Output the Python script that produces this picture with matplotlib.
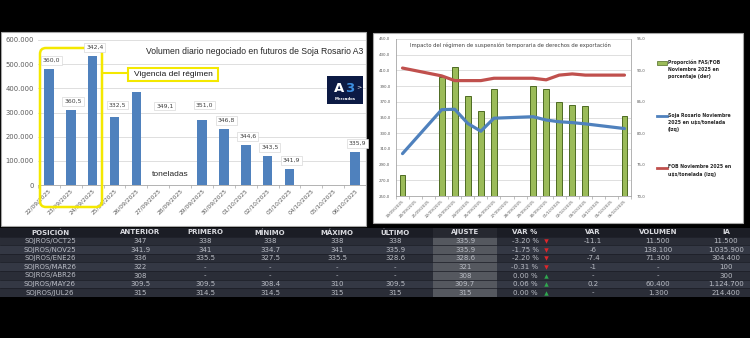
import numpy as np
import matplotlib
matplotlib.use("Agg")
import matplotlib.pyplot as plt
from matplotlib.patches import Rectangle, FancyBboxPatch
from matplotlib.lines import Line2D
from matplotlib.ticker import FuncFormatter, FixedLocator

# ---------------- data ----------------
vol_dates = ["22/09/2025", "23/09/2025", "24/09/2025", "25/09/2025", "26/09/2025",
             "27/09/2025", "28/09/2025", "29/09/2025", "30/09/2025", "01/10/2025",
             "02/10/2025", "03/10/2025", "04/10/2025", "05/10/2025", "06/10/2025"]
vol_tonnes = [479000, 310000, 533000, 281000, 384000, np.nan, np.nan, 269000,
              231000, 165000, 120000, 66000, np.nan, np.nan, 136000]
vol_price_labels = ["360,0", "360,5", "342,4", "332,5", "349,1", None, None, "351,0",
                    "346,8", "344,6", "343,5", "341,9", None, None, "335,9"]

imp_dates = ["19/09/2025", "20/09/2025", "21/09/2025", "22/09/2025", "23/09/2025",
             "24/09/2025", "25/09/2025", "26/09/2025", "27/09/2025", "28/09/2025",
             "29/09/2025", "30/09/2025", "01/10/2025", "02/10/2025", "03/10/2025",
             "04/10/2025", "05/10/2025", "06/10/2025"]
fas_fob_pct = [73.4, np.nan, np.nan, 88.9, 90.5, 86.0, 83.5, 87.0, np.nan, np.nan,
               87.5, 87.0, 85.0, 84.5, 84.4, np.nan, np.nan, 82.8]
soja_rosario = [304.0, np.nan, np.nan, 360.0, 360.5, 342.4, 332.5, 349.1, np.nan, np.nan,
                351.0, 346.8, 344.6, 343.5, 341.9, np.nan, np.nan, 335.9]
fob_nov = [413.0, np.nan, np.nan, 403.0, 397.0, 397.0, 397.0, 400.0, np.nan, np.nan,
           400.0, 398.0, 404.0, 405.5, 404.0, np.nan, np.nan, 404.0]

legend_labels = ["Proporción FAS/FOB\nNoviembre 2025 en\nporcentaje (der)",
                 "Soja Rosario Noviembre\n2025 en u\\$s/tonelada\n(izq)",
                 "FOB Noviembre 2025 en\nu\\$s/tonelada (izq)"]

table_header = ["POSICIÓN", "ANTERIOR", "PRIMERO", "MÍNIMO", "MÁXIMO", "ÚLTIMO",
                "AJUSTE", "VAR %", "VAR", "VOLUMEN", "IA"]
table_rows = [
    ["SOJROS/OCT25", "347", "338", "338", "338", "338", "335.9", "-3.20 %", "-11.1", "11.500", "11.500"],
    ["SOJROS/NOV25", "341.9", "341", "334.7", "341", "335.9", "335.9", "-1.75 %", "-6", "138.100", "1.035.900"],
    ["SOJROS/ENE26", "336", "335.5", "327.5", "335.5", "328.6", "328.6", "-2.20 %", "-7.4", "71.300", "304.400"],
    ["SOJROS/MAR26", "322", "-", "-", "-", "-", "321", "-0.31 %", "-1", "-", "100"],
    ["SOJROS/ABR26", "308", "-", "-", "-", "-", "308", "0.00 %", "-", "-", "300"],
    ["SOJROS/MAY26", "309.5", "309.5", "308.4", "310", "309.5", "309.7", "0.06 %", "0.2", "60.400", "1.124.700"],
    ["SOJROS/JUL26", "315", "314.5", "314.5", "315", "315", "315", "0.00 %", "-", "1.300", "214.400"],
]
var_pct_sign = [-1, -1, -1, -1, 0, 1, 0]

# ---------------- figure & layers ----------------
W, H = 750, 338
fig = plt.figure(figsize=(W / 100, H / 100), dpi=100, facecolor="black")


def fx(x):
    return x / W


def fy(y):
    return 1 - y / H


bg = fig.add_axes([0, 0, 1, 1], zorder=0)
bg.set_xlim(0, W)
bg.set_ylim(H, 0)
bg.axis("off")

# chart panels
bg.add_patch(Rectangle((0.5, 32), 365.5, 194, fc="white", ec="#a6a6a6", lw=0.8))
bg.add_patch(Rectangle((373, 33), 370, 190, fc="white", ec="#a6a6a6", lw=0.8))

# ---------------- left chart: daily volume ----------------
axL = fig.add_axes([fx(38), fy(185), 328 / W, 145 / H], zorder=2)
axL.patch.set_visible(False)
xL = np.arange(len(vol_dates))
vol = np.array(vol_tonnes, dtype=float)
okL = ~np.isnan(vol)
axL.bar(xL[okL], vol[okL], width=0.44, color="#4f81bd", zorder=3)
axL.set_xlim(-0.5, len(vol_dates) - 0.5)
axL.set_ylim(0, 600000)
axL.yaxis.set_major_locator(FixedLocator(np.arange(0, 600001, 100000)))
axL.yaxis.set_major_formatter(FuncFormatter(lambda v, p: f"{int(round(v)):,}".replace(",", ".")))
axL.yaxis.grid(True, color="#d9d9d9", lw=0.6, zorder=0)
axL.set_axisbelow(True)
for s in ["top", "right", "left"]:
    axL.spines[s].set_visible(False)
axL.spines["bottom"].set_color("#a6a6a6")
axL.spines["bottom"].set_linewidth(0.6)
axL.tick_params(axis="y", length=0, pad=3, labelsize=4.9, labelcolor="#595959")
axL.set_xticks(xL)
axL.set_xticklabels(vol_dates, rotation=45, ha="right", rotation_mode="anchor")
axL.tick_params(axis="x", which="major", length=0, pad=2, labelsize=4.2, labelcolor="#595959")
axL.set_xticks(np.arange(-0.5, len(vol_dates)), minor=True)
axL.tick_params(axis="x", which="minor", length=2.5, width=0.5, color="#a6a6a6")

# price labels above the bars
label_nudge = {"25/09/2025": (0.05, 14000), "26/09/2025": (1.2, -93000), "29/09/2025": (0.0, 26000)}
for i, lab in enumerate(vol_price_labels):
    if lab is None:
        continue
    dx, dy = label_nudge.get(vol_dates[i], (0.0, 0.0))
    axL.text(xL[i] + 0.1 + dx, vol[i] + 36000 + dy, lab, ha="center", va="center",
             fontsize=4.4, color="#404040", zorder=6,
             bbox=dict(boxstyle="square,pad=0.3", fc="white", ec="#d9d9d9", lw=0.5))

# highlight of the regime period
axL.add_patch(FancyBboxPatch((40, 48), 62, 159, boxstyle="round,pad=0,rounding_size=6",
                             fc="none", ec="#f4e800", lw=1.8, transform=bg.transData,
                             clip_on=False, zorder=5))
axL.add_line(Line2D([102, 128], [73, 73], color="#f4e800", lw=1.5,
                    transform=bg.transData, clip_on=False, zorder=5))
axL.add_patch(Rectangle((128, 68), 90, 12.5, fc="white", ec="#f4e800", lw=1.5,
                        transform=bg.transData, clip_on=False, zorder=5))
axL.text(173, 74.3, "Vigencia del régimen", ha="center", va="center", fontsize=6,
         family="Liberation Sans", color="#1a1a1a", transform=bg.transData, zorder=6)

axL.text(146, 52, "Volumen diario negociado en futuros de Soja Rosario A3", ha="left",
         va="center", fontsize=6.2, family="Liberation Sans", color="#262626",
         transform=bg.transData, zorder=6)
axL.text(152, 175, "toneladas", ha="left", va="center", fontsize=6,
         family="Liberation Sans", color="#262626", transform=bg.transData, zorder=6)

# A3 Mercados badge
axL.add_patch(Rectangle((327, 76), 36, 28, fc="#0c1a44", ec="none",
                        transform=bg.transData, clip_on=False, zorder=6))
axL.text(339.5, 88, "A", ha="center", va="center", fontsize=9.5, fontweight="bold",
         color="white", transform=bg.transData, zorder=7)
axL.text(349.5, 88, "3", ha="center", va="center", fontsize=9.5, fontweight="bold",
         color="#3d8fe0", transform=bg.transData, zorder=7)
axL.text(358.5, 87, ">", ha="center", va="center", fontsize=4.5,
         color="white", transform=bg.transData, zorder=7)
axL.text(345, 99.5, "Mercados", ha="center", va="center", fontsize=2.8, fontweight="bold",
         color="white", transform=bg.transData, zorder=7)

# ---------------- right chart: regime impact ----------------
axR2 = fig.add_axes([fx(396), fy(196), 235 / W, 157 / H], zorder=2)
axR = axR2.twinx()
axR.set_zorder(axR2.get_zorder() + 1)
axR.patch.set_visible(False)
axR2.patch.set_visible(False)

xR = np.arange(len(imp_dates))
pct = np.array(fas_fob_pct, dtype=float)
sr = np.array(soja_rosario, dtype=float)
fob = np.array(fob_nov, dtype=float)

okP = ~np.isnan(pct)
axR2.bar(xR[okP], pct[okP], width=0.45, color="#9bbb59", edgecolor="#4e6b22", lw=0.7, zorder=3)
axR2.set_ylim(70, 95)
axR2.set_xlim(-0.5, len(imp_dates) - 0.5)
axR2.yaxis.set_major_locator(FixedLocator(np.arange(70, 95.1, 5)))
axR2.yaxis.set_minor_locator(FixedLocator(np.arange(72.5, 95, 5)))
axR2.yaxis.set_major_formatter(FuncFormatter(lambda v, p: f"{v:.1f}".replace(".", ",")))
axR2.yaxis.grid(True, which="both", color="#d9d9d9", lw=0.6, zorder=0)
axR2.set_axisbelow(True)
axR2.yaxis.tick_right()
axR2.tick_params(axis="y", which="both", length=0, pad=4, labelsize=2.9, labelcolor="#595959")
axR2.set_xticks(xR)
axR2.set_xticklabels(imp_dates, rotation=45, ha="right", rotation_mode="anchor")
axR2.tick_params(axis="x", which="major", length=0, pad=2, labelsize=3.0, labelcolor="#595959")
axR2.set_xticks(np.arange(-0.5, len(imp_dates)), minor=True)
axR2.tick_params(axis="x", which="minor", length=2, width=0.5, color="#a6a6a6")
for s in ["top"]:
    axR2.spines[s].set_visible(False)
for s in ["left", "right", "bottom"]:
    axR2.spines[s].set_color("#a6a6a6")
    axR2.spines[s].set_linewidth(0.6)

okS = ~np.isnan(sr)
okF = ~np.isnan(fob)
axR.plot(xR[okS], sr[okS], color="#4f81bd", lw=2.3, solid_joinstyle="round",
         solid_capstyle="round", zorder=4)
axR.plot(xR[okF], fob[okF], color="#c0504d", lw=2.3, solid_joinstyle="round",
         solid_capstyle="round", zorder=4)
axR.set_ylim(250, 450)
axR.yaxis.tick_left()
axR.yaxis.set_major_locator(FixedLocator(np.arange(250, 451, 20)))
axR.yaxis.set_major_formatter(FuncFormatter(lambda v, p: f"{v:.1f}".replace(".", ",")))
axR.tick_params(axis="y", length=0, pad=4, labelsize=2.9, labelcolor="#595959")
for s in axR.spines.values():
    s.set_visible(False)

axR.text(510, 45, "Impacto del régimen de suspensión temporaria de derechos de exportación",
         ha="center", va="center", fontsize=3.8, color="#404040",
         transform=bg.transData, zorder=6)

# legend
axR.add_patch(Rectangle((657, 61), 10, 4, fc="#9bbb59", ec="#4e6b22", lw=0.5,
                        transform=bg.transData, clip_on=False, zorder=6))
axR.add_line(Line2D([657, 667], [116, 116], color="#4f81bd", lw=2,
                    transform=bg.transData, clip_on=False, zorder=6))
axR.add_line(Line2D([657, 667], [168, 168], color="#c0504d", lw=2,
                    transform=bg.transData, clip_on=False, zorder=6))
for ytop, lab in zip([59.5, 112.5, 164.5], legend_labels):
    axR.text(668, ytop, lab, ha="left", va="top", fontsize=3.3, fontweight="bold",
             color="#262626", linespacing=1.55, transform=bg.transData, zorder=6)

# ---------------- quotes table ----------------
col_x = [50, 140, 205, 270, 337, 395, 465, 525, 593, 658, 726]
tab_top, head_h, row_h = 227.5, 9.0, 8.6
bg.add_patch(Rectangle((0, tab_top), W, head_h, fc="#1b1d25", ec="none"))
row_colors = ["#2a2d37", "#343844"]
for r in range(len(table_rows)):
    y0 = tab_top + head_h + r * row_h
    bg.add_patch(Rectangle((0, y0), W, row_h, fc=row_colors[r % 2], ec="none"))
    bg.add_line(Line2D([0, W], [y0, y0], color="#1b1d25", lw=0.5))
tab_bot = tab_top + head_h + len(table_rows) * row_h
bg.add_patch(Rectangle((433, tab_top + head_h), 64, tab_bot - tab_top - head_h,
                       fc="#55585f", ec="none"))
bg.add_patch(Rectangle((433, tab_top), 64, head_h, fc="#262830", ec="none"))

for c, name in enumerate(table_header):
    bg.text(col_x[c], tab_top + head_h / 2 + 0.3, name, ha="center", va="center",
            fontsize=5, fontweight="bold", color="#d9dadf")
for r, row in enumerate(table_rows):
    yc = tab_top + head_h + (r + 0.5) * row_h + 0.3
    for c, val in enumerate(row):
        bg.text(col_x[c], yc, val, ha="center", va="center", fontsize=5, color="#b9bcc4")
    sign = var_pct_sign[r]
    if sign < 0:
        bg.plot([546], [yc], marker="v", ms=3.2, color="#e0262b", mec="none")
    else:
        bg.plot([546], [yc], marker="^", ms=3.2, color="#2fa84f", mec="none")

fig.savefig("out.png", dpi=100, facecolor="black")
